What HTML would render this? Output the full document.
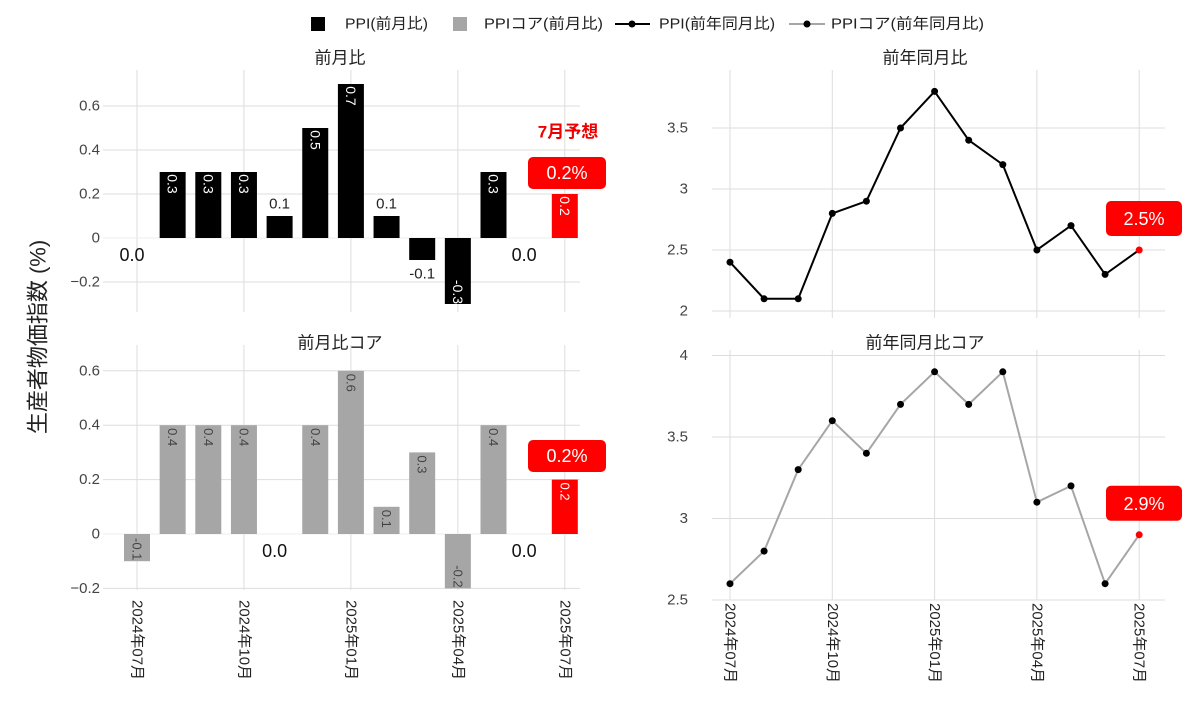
<!DOCTYPE html>
<html><head><meta charset="utf-8"><style>
body{margin:0;background:#fff}
svg text{font-family:"Liberation Sans","Noto Sans CJK JP",sans-serif}
</style></head><body>
<svg id="s" width="1200" height="706" xmlns="http://www.w3.org/2000/svg"></svg>
<script>
const s=document.getElementById('s');let h='';
function t(x,y,str,o){o=o||{};h+=`<text x="${x}" y="${y}" font-size="${o.fs||14}" fill="${o.c||'#333'}" text-anchor="${o.a||'middle'}" ${o.w?'font-weight="bold"':''} ${o.tl?`textLength="${o.tl}" lengthAdjust="spacingAndGlyphs"`:''} ${o.r!==undefined?`transform="rotate(${o.r} ${x} ${y})"`:''} dominant-baseline="central">${str}</text>`;}
function l(x1,y1,x2,y2,c,w){h+=`<line x1="${x1}" y1="${y1}" x2="${x2}" y2="${y2}" stroke="${c}" stroke-width="${w||1}"/>`;}
function r(x,y,w,hh,c,rx){h+=`<rect x="${x}" y="${y}" width="${w}" height="${hh}" fill="${c}" ${rx?`rx="${rx}"`:''}/>`;}
// legend
r(311,17,14,14,'#000');t(345,24,'PPI(前月比)',{a:'start',c:'#222',tl:83,fs:15});
r(453,17,14,14,'#a6a6a6');t(484,24,'PPIコア(前月比)',{a:'start',c:'#222',tl:119,fs:15});
l(615,24,650,24,'#000',2);h+='<circle cx="632" cy="24" r="3.5" fill="#000"/>';t(659,24,'PPI(前年同月比)',{a:'start',c:'#222',tl:116,fs:15});
l(789,24,825,24,'#a6a6a6',2);h+='<circle cx="807" cy="24" r="3.5" fill="#000"/>';t(831,24,'PPIコア(前年同月比)',{a:'start',c:'#222',tl:153,fs:15});
t(38,337,'生産者物価指数 (%)',{fs:22,r:-90,c:'#222'});
const months=['2024年07月','2024年10月','2025年01月','2025年04月','2025年07月'];
function barPanel(top,bot,y0,ppu,ticks,data,col,lblc,title,ty){
  t(340,ty,title,{fs:17,c:'#222'});
  const X=i=>137+i*35.65;
  for(let k=0;k<5;k++)l(X(k*3),top-10,X(k*3),bot,'#ddd');
  ticks.forEach(v=>{const y=y0-v*ppu;l(103,y,580,y,v==0?'#eee':'#ddd');t(100,y,v<0?'−'+(-v):(v==0?'0':v),{a:'end',c:'#444',fs:15});});
  data.forEach((v,i)=>{const x=X(i),c=i==12?'#f00':col;
    if(v==0){t(x-5,y0+17,'0.0',{fs:18,c:'#111'});return;}
    const y=v>0?y0-v*ppu:y0,hh=Math.abs(v)*ppu;r(x-13,y,26,hh,c);
    const lc=i==12?'#fff':lblc;
    if(hh<30&&col=='#000'){if(v>0)t(x,y-12,v.toFixed(1),{c:'#222',fs:15});else t(x,y+hh+14,v.toFixed(1),{c:'#222',fs:15});}
    else{const ty=v>0?y+12:y+hh-12;t(x,ty,v.toFixed(1),{r:90,c:lc,fs:col=='#000'?14:13});}
  });
}
barPanel(80,312,238,220,[0.6,0.4,0.2,0,-0.2],[0,.3,.3,.3,.1,.5,.7,.1,-.1,-.3,.3,0,.2],'#000','#fff','前月比',58);
barPanel(355,590,534,272,[0.6,0.4,0.2,0,-0.2],[-.1,.4,.4,.4,0,.4,.6,.1,.3,-.2,.4,0,.2],'#a6a6a6','#444','前月比コア',343);
t(568,132,'7月予想',{fs:17,w:1,c:'#e00'});
r(528,157,78,32,'#f00',5);t(567,173,'0.2%',{fs:18,c:'#fff'});
r(528,440,78,32,'#f00',5);t(567,456,'0.2%',{fs:18,c:'#fff'});
function linePanel(top,bot,y0v,ppu,yb,ticks,data,col,title,lab,ty){
  t(925,ty,title,{fs:17,c:'#222'});
  const X=i=>730+i*34.1,Y=v=>yb-(v-y0v)*ppu;
  for(let k=0;k<5;k++)l(X(k*3),top-5,X(k*3),bot,'#ddd');
  ticks.forEach(v=>{const y=Y(v);l(712,y,1165,y,'#ddd');t(688,y,String(v),{a:'end',c:'#444',fs:15});});
  h+=`<polyline fill="none" stroke="${col}" stroke-width="2" points="${data.map((v,i)=>X(i)+','+Y(v)).join(' ')}"/>`;
  data.forEach((v,i)=>h+=`<circle cx="${X(i)}" cy="${Y(v)}" r="3.5" fill="${i==12?'#f00':'#000'}"/>`);
  const ly=Y(data[12]);r(1106,ly-49,76,35,'#f00',5);t(1144,ly-31,lab,{fs:18,c:'#fff'});
}
linePanel(75,318,2,122,311,[3.5,3,2.5,2],[2.4,2.1,2.1,2.8,2.9,3.5,3.8,3.4,3.2,2.5,2.7,2.3,2.5],'#000','前年同月比','2.5%',58);
linePanel(355,600,2.5,163,600,[4,3.5,3,2.5],[2.6,2.8,3.3,3.6,3.4,3.7,3.9,3.7,3.9,3.1,3.2,2.6,2.9],'#a6a6a6','前年同月比コア','2.9%',343);
months.forEach((m,k)=>{t(137+k*3*35.65,600,m,{a:'start',r:90,c:'#222',fs:15});t(730+k*3*34.1,603,m,{a:'start',r:90,c:'#222',fs:15});});
s.innerHTML=h;
</script>
</body></html>
